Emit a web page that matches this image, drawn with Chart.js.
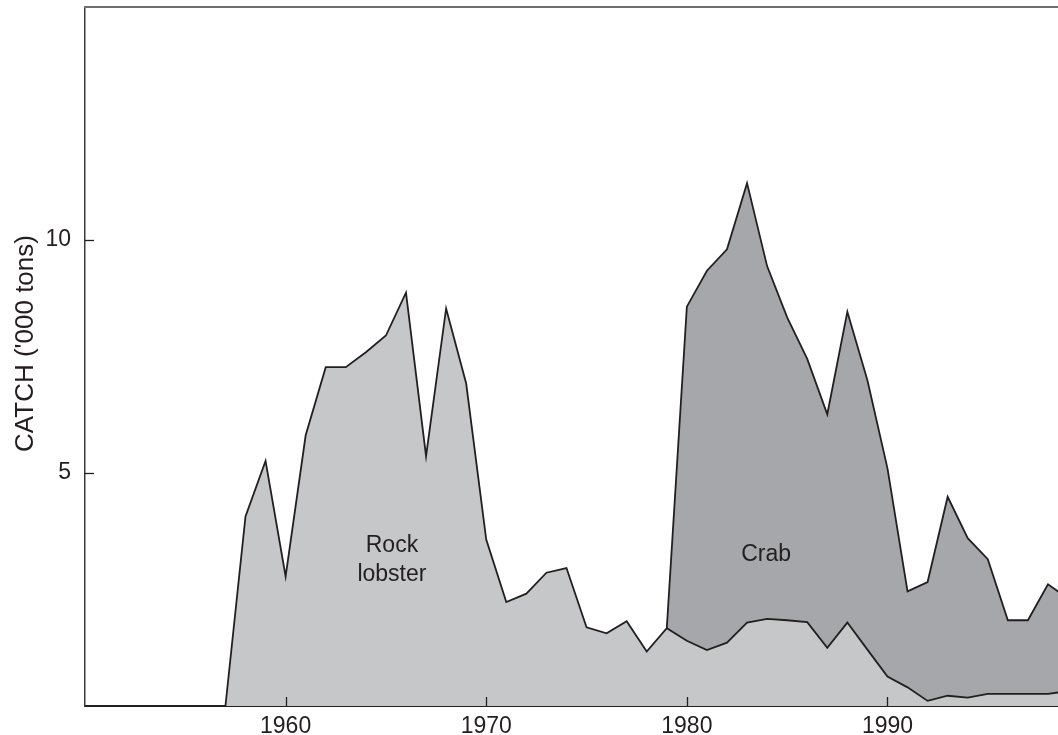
<!DOCTYPE html>
<html><head><meta charset="utf-8">
<script src="https://cdn.jsdelivr.net/npm/chart.js@4.4.0/dist/chart.umd.min.js"></script>
<style>html,body{margin:0;padding:0;background:#fff;overflow:hidden}#wrap{width:1058px;height:735px;position:relative}</style>
</head><body><div id="wrap"><canvas id="c"></canvas></div>
<script>
const years = [1950,1951,1952,1953,1954,1955,1956,1957,1958,1959,1960,1961,1962,1963,1964,1965,1966,1967,1968,1969,1970,1971,1972,1973,1974,1975,1976,1977,1978,1979,1980,1981,1982,1983,1984,1985,1986,1987,1988,1989,1990,1991,1992,1993,1994,1995,1996,1997,1998,1999];
const rockLobster = [0,0,0,0,0,0,0,0,4.07,5.26,2.78,5.81,7.27,7.27,7.59,7.95,8.87,5.36,8.53,6.92,3.57,2.23,2.41,2.86,2.96,1.69,1.56,1.82,1.17,1.67,1.40,1.20,1.36,1.79,1.87,1.84,1.80,1.25,1.79,1.21,0.63,0.40,0.11,0.22,0.18,0.26,0.26,0.26,0.26,0.32];
const crab = [null,null,null,null,null,null,null,null,null,null,null,null,null,null,null,null,null,null,null,null,null,null,null,null,null,null,null,null,null,0,7.17,8.14,8.44,9.43,7.57,6.50,5.65,5.01,6.67,5.78,4.47,2.06,2.55,4.27,3.42,2.89,1.58,1.58,2.35,1.99];
const xTickValues = [1960,1970,1980,1990];
const yTickValues = [5,10];
const yTitle = "CATCH ('000 tons)";
const seriesNames = ['Rock lobster','Crab'];

const INK = '#231f20';
const FONT = "'Liberation Sans', Arial, Helvetica, sans-serif";

const decor = {
  id: 'decor',
  afterDraw(chart) {
    const {ctx, chartArea: a, scales: {x, y}} = chart;
    ctx.save();
    ctx.strokeStyle = '#6d6e71';
    ctx.lineWidth = 2;
    ctx.beginPath(); ctx.moveTo(a.left - 1, a.top); ctx.lineTo(a.right, a.top); ctx.stroke();
    ctx.strokeStyle = INK;
    ctx.lineWidth = 1.3;
    x.ticks.forEach((t) => {
      const px = Math.round(x.getPixelForValue(t.value)) + 0.5;
      ctx.beginPath(); ctx.moveTo(px, a.bottom); ctx.lineTo(px, a.bottom - 9); ctx.stroke();
    });
    y.ticks.forEach((t) => {
      const py = Math.round(y.getPixelForValue(t.value)) + 0.5;
      ctx.beginPath(); ctx.moveTo(a.left, py); ctx.lineTo(a.left + 9, py); ctx.stroke();
    });
    ctx.fillStyle = INK;
    ctx.font = '23px ' + FONT;
    ctx.textAlign = 'center';
    ctx.textBaseline = 'alphabetic';
    const rx = x.getPixelForValue(1965.3), ry = y.getPixelForValue(3.31);
    ctx.fillText('Rock', rx, ry);
    ctx.fillText('lobster', rx, ry + 29);
    ctx.fillText('Crab', x.getPixelForValue(1983.95), y.getPixelForValue(3.11));
    ctx.font = '26px ' + FONT;
    ctx.translate(33, (y.getPixelForValue(10) + y.getPixelForValue(5)) / 2 - 13);
    ctx.rotate(-Math.PI / 2);
    ctx.fillText(yTitle, 0, 0);
    ctx.restore();
  }
};

const noPad = (s) => { s.paddingTop = 0; s.paddingBottom = 0; s.paddingLeft = 0; s.paddingRight = 0; };

new Chart(document.getElementById('c'), {
  type: 'line',
  data: {
    labels: years,
    datasets: [
      {
        label: seriesNames[0],
        data: years.map((yr, i) => ({x: yr, y: rockLobster[i]})),
        borderColor: INK, borderWidth: 1.8,
        backgroundColor: '#c6c7c9',
        fill: 'origin', pointRadius: 0, tension: 0
      },
      {
        label: seriesNames[1],
        data: years.map((yr, i) => ({x: yr, y: crab[i]})),
        borderColor: INK, borderWidth: 1.8,
        backgroundColor: '#a6a7aa',
        fill: '-1', pointRadius: 0, tension: 0, spanGaps: false
      }
    ]
  },
  options: {
    responsive: true, maintainAspectRatio: false, animation: false,
    layout: {padding: {top: 7, right: 0, left: 0, bottom: 0}},
    plugins: {legend: {display: false}, tooltip: {enabled: false}},
    scales: {
      x: {
        type: 'linear', min: 1950, max: 1998.5,
        afterBuildTicks: (s) => { s.ticks = xTickValues.map(v => ({value: v})); },
        afterFit: (s) => { s.height = 29; noPad(s); },
        grid: {display: false, drawTicks: false, tickLength: 0},
        border: {display: true, color: INK, width: 2},
        ticks: {color: INK, font: {family: FONT, size: 23}, padding: 7, maxRotation: 0, autoSkip: false, callback: (v) => String(v)}
      },
      y: {
        type: 'linear', min: 0, max: 15, stacked: true,
        afterBuildTicks: (s) => { s.ticks = yTickValues.map(v => ({value: v})); },
        afterFit: (s) => { s.width = 85; noPad(s); },
        grid: {display: false, drawTicks: false, tickLength: 0},
        border: {display: true, color: '#3a3a3c', width: 1.5},
        ticks: {color: INK, font: {family: FONT, size: 23}, padding: 14, callback: (v) => String(v)}
      }
    }
  },
  plugins: [decor]
});
</script>
</body></html>
